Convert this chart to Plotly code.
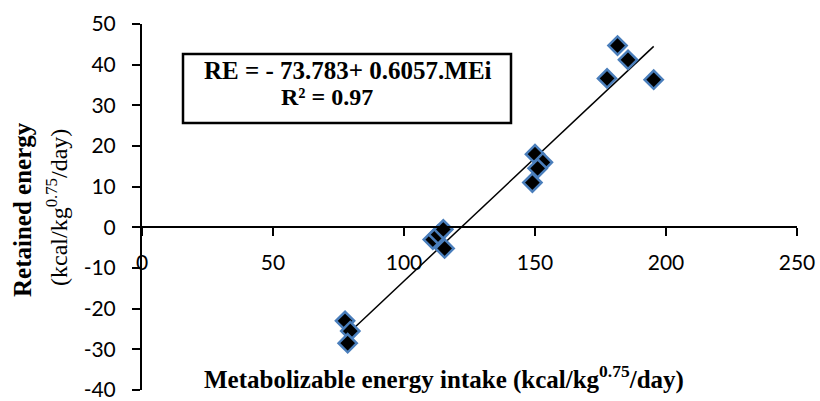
import plotly.graph_objects as go
import numpy as np

# Data
mei = [77.5, 79.5, 78.5, 111.0, 113.0, 115.0, 115.5, 150.0, 153.0, 151.0, 149.0, 181.5, 185.5, 177.5, 195.3]
re = [-23.0, -25.5, -28.5, -3.0, -1.8, -0.5, -5.2, 18.0, 16.0, 14.5, 11.0, 44.7, 41.2, 36.6, 36.3]

intercept = -73.783
slope = 0.6057
r2 = 0.97

x_ticks = [0, 50, 100, 150, 200, 250]
y_ticks = [-40, -30, -20, -10, 0, 10, 20, 30, 40, 50]

x_fit = np.array([min(mei), max(mei)])
y_fit = intercept + slope * x_fit

fig = go.Figure()
fig.add_trace(go.Scatter(
    x=x_fit, y=y_fit, mode="lines",
    line=dict(color="black", width=1.5), showlegend=False, hoverinfo="skip"))
fig.add_trace(go.Scatter(
    x=mei, y=re, mode="markers",
    marker=dict(symbol="diamond", size=14, color="black",
                line=dict(color="#4a7ebb", width=2.5)),
    showlegend=False))

W, H = 820, 401
L, R, T, B = 142, 23, 24, 11
pw, ph = W - L - R, H - T - B

def px(xp):
    return (xp - L) / pw

def py(yp):
    return (H - B - yp) / ph

tickfont = dict(family="Lato, Arial, sans-serif", size=21, color="black")

fig.update_layout(
    width=W, height=H,
    margin=dict(l=L, r=R, t=T, b=B, autoexpand=False),
    paper_bgcolor="white", plot_bgcolor="white",
    xaxis=dict(range=[0, 250], tickvals=x_ticks, ticktext=[str(v) for v in x_ticks],
               showgrid=False, zeroline=False,
               showline=True, linecolor="black", linewidth=2,
               ticks="outside", ticklen=8, tickwidth=2, tickcolor="black",
               anchor="free", position=40 / 90, tickfont=tickfont,
               ticklabelstandoff=8, automargin=False, ticklabeloverflow="allow"),
    yaxis=dict(range=[-40, 50], tickvals=y_ticks, ticktext=[str(v) for v in y_ticks],
               showgrid=False, zeroline=False,
               showline=True, linecolor="black", linewidth=2,
               ticks="outside", ticklen=8, tickwidth=2, tickcolor="black",
               tickfont=tickfont, ticklabelstandoff=12, automargin=False,
               ticklabeloverflow="allow"),
)

serif = "Liberation Serif, Times New Roman, serif"

fig.add_shape(type="rect", xref="paper", yref="paper",
              x0=px(183), x1=px(511), y0=py(123), y1=py(54),
              line=dict(color="black", width=2.5), fillcolor="white", layer="above")

def note(x, y, text, size, angle=0):
    fig.add_annotation(xref="paper", yref="paper", x=px(x), y=py(y), text=text,
                       showarrow=False, xanchor="center", yanchor="middle",
                       textangle=angle, font=dict(family=serif, size=size, color="black"))

note(348, 70, f"<b>RE = - {abs(intercept)}+ {slope}.MEi</b>", 25)
note(327, 97, f"<b>R² = {r2}</b>", 24)
note(444, 377, "<b>Metabolizable energy intake (kcal/kg<sup>0.75</sup>/day)</b>", 25)
note(22, 210, "<b>Retained energy</b>", 25, -90)
note(57, 208, "(kcal/kg<sup>0.75</sup>/day)", 24, -90)

fig.write_html("out.html", config={"displayModeBar": False},
               post_script="document.body.style.margin='0';")
